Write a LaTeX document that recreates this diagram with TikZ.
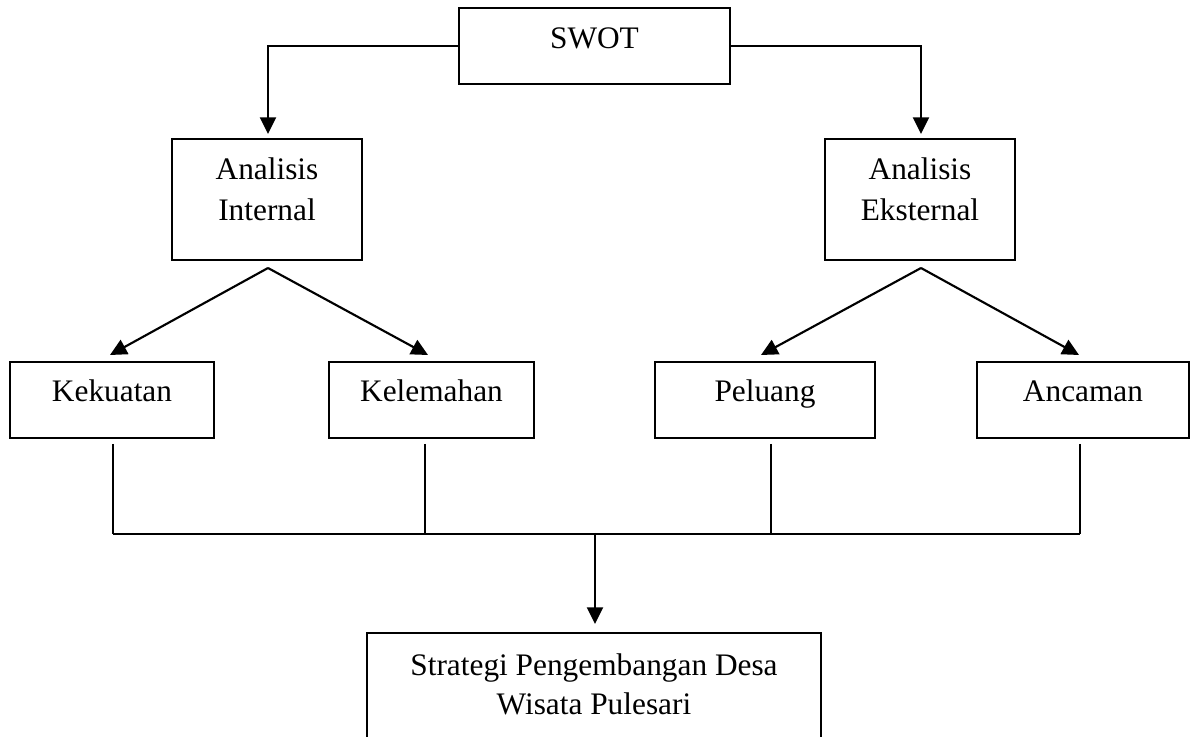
\documentclass[tikz,border=0pt]{standalone}
\usepackage{fontspec}
\setmainfont{Liberation Serif}
\usetikzlibrary{arrows.meta,calc}
\begin{document}
\begin{tikzpicture}[x=0.75pt,y=-0.75pt,
  box/.style={draw,line width=1.5pt,rectangle,inner sep=0pt},
  lbl/.style={font=\fontsize{23.5}{30}\selectfont,anchor=base,inner sep=0pt},
  arr/.style={line width=1.6pt,-{Triangle[length=12.5pt,width=12pt]}},
  thin/.style={line width=1pt},
  bus/.style={line width=1.6pt}]
\useasboundingbox (0,0) rectangle (1196,737);
\clip (0,0) rectangle (1196,737);
% boxes
\node[box,minimum width=203.25pt,minimum height=57pt] (swot) at (594.5,46) {};
\node[box,minimum width=142.5pt,minimum height=90.75pt] (ai) at (267,199.5) {};
\node[box,minimum width=142.5pt,minimum height=90.75pt] (ae) at (920,199.5) {};
\node[box,minimum width=153pt,minimum height=57pt] (kek) at (112,400) {};
\node[box,minimum width=153.75pt,minimum height=57pt] (kel) at (431.5,400) {};
\node[box,minimum width=165pt,minimum height=57pt] (pel) at (765,400) {};
\node[box,minimum width=159pt,minimum height=57pt] (anc) at (1083,400) {};
\node[box,minimum width=340.5pt,minimum height=110.25pt] (res) at (594,706.5) {};
% texts
\node[lbl] (tswot) at (594.5,49) {SWOT};
\node[lbl] (tai1) at (267,180) {Analisis};
\node[lbl] (tai2) at (267,221) {Internal};
\node[lbl] (tae1) at (920,180) {Analisis};
\node[lbl] (tae2) at (920,221) {Eksternal};
\node[lbl] (tkek) at (112,402) {Kekuatan};
\node[lbl] (tkel) at (431.5,402) {Kelemahan};
\node[lbl] (tpel) at (765,402) {Peluang};
\node[lbl] (tanc) at (1083,402) {Ancaman};
\node[lbl] (tres1) at (594,675) {Strategi Pengembangan Desa};
\node[lbl] (tres2) at (594,714) {Wisata Pulesari};
% connectors from SWOT
\draw[arr] (swot.west) -| ($(ai.north)+(1,-4)$);
\draw[arr] (swot.east) -| ($(ae.north)+(1,-4)$);
% diagonals
\coordinate (apl) at ($(ai.south)+(1,7)$);
\coordinate (apr) at ($(ae.south)+(1,7)$);
\draw[arr] (apl) -- ($(kek.north)+(-2,-6)$);
\draw[arr] (apl) -- ($(kel.north)+(-3.5,-6)$);
\draw[arr] (apr) -- ($(pel.north)+(-4,-6)$);
\draw[arr] (apr) -- ($(anc.north)+(-4,-6)$);
% bus
\coordinate (hb) at (595,533);
\draw[thin] ($(kek.south)+(1,5)$) -- ($(kek.south)+(1,95)$);
\draw[thin] ($(kel.south)+(-6.5,5)$) -- ($(kel.south)+(-6.5,95)$);
\draw[thin] ($(pel.south)+(6,5)$) -- ($(pel.south)+(6,95)$);
\draw[thin] ($(anc.south)+(-3,5)$) -- ($(anc.south)+(-3,95)$);
\draw[bus] ($(kek.south)+(1,95)$) -- ($(anc.south)+(-3,95)$);
\draw[arr] (hb) -- ($(res.north)+(1,-8)$);
\end{tikzpicture}
\end{document}
